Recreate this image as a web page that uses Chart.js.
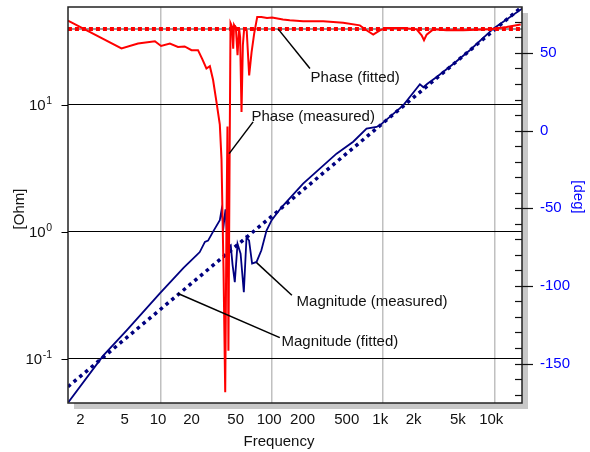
<!DOCTYPE html>
<html>
<head>
<meta charset="utf-8">
<script src="https://cdn.jsdelivr.net/npm/chart.js@4.4.0/dist/chart.umd.min.js"></script>
<style>
  body { margin: 0; background: #fff; }
</style>
</head>
<body>
<canvas id="impChart" width="590" height="452"></canvas>
<script>
// measured impedance magnitude, Hz / Ohm
const magFreq = [1.47, 3.0, 4.9, 9.7, 16, 20.8, 22.3, 24.8, 26.5, 29.4, 33.8, 35, 36.5, 38, 40, 42.4, 44, 46.1, 48.8, 52, 55.6, 58.8, 62, 66, 72.4, 80, 89, 99, 122, 190, 380, 537, 708, 871, 933, 1514, 2140, 2300, 2500, 3030, 4270, 6020, 9800, 17770];
const magOhm  = [0.0455, 0.105, 0.167, 0.325, 0.52, 0.65, 0.69, 0.83, 0.85, 1.0, 1.23, 1.47, 1.1, 1.5, 0.75, 0.78, 0.55, 0.40, 0.80, 0.67, 0.334, 0.905, 0.85, 0.56, 0.577, 0.713, 1.02, 1.23, 1.56, 2.39, 4.11, 5.1, 6.47, 6.67, 6.87, 9.86, 14.45, 13.7, 14.6, 16.5, 20.9, 26.8, 39.6, 57];

// measured phase, Hz / deg
const phaseFreq = [1.45, 4.4, 6.2, 8.8, 10, 12, 14.2, 16.3, 18.8, 21.5, 23.5, 25.6, 27.5, 29.4, 31.5, 33.8, 35.0, 36.5, 37.8, 38.8, 39.6, 40.4, 41.3, 42.2, 43.5, 44.6, 45.4, 46.2, 47.1, 48.8, 50.4, 51.5, 53.0, 54.5, 56.0, 59.0, 62.1, 65.3, 68.9, 73.4, 80, 90, 100, 125, 144, 190, 288, 436, 616, 708, 813, 933, 1072, 1514, 2000, 2218, 2330, 2460, 2820, 3720, 5250, 9120, 12900, 17300];
const phaseDeg  = [70.8, 52.9, 56.1, 57.5, 54.5, 56.0, 53.9, 54.2, 51.8, 51.8, 46, 40, 41.5, 32.6, 18.7, 3.8, -18.5, -90, -168.4, -60, 2.7, -141.7, -30, 69.2, 67, 52.8, 68, 67, 66.7, 48.5, 66, 60, 12, 55, 65.7, 64.6, 35.6, 50.6, 62.5, 73.2, 73.2, 72.5, 72.8, 71.5, 71, 70.5, 70.5, 69.5, 67.8, 64.6, 61.8, 64.6, 66, 66, 65.2, 61.4, 58.2, 61.8, 65.2, 64.6, 64.6, 65.2, 66.7, 68.4];

// fitted model: straight line in log-log, constant phase
const fitFreq = [1.45, 17770];
const fitOhm  = [0.06, 59];
const fitDeg  = [65.5, 65.5];

// axes
const xTicks      = [2, 5, 10, 20, 50, 100, 200, 500, 1000, 2000, 5000, 10000];
const xTickLabels = ['2', '5', '10', '20', '50', '100', '200', '500', '1k', '2k', '5k', '10k'];
const xGrid       = [10, 100, 1000, 10000];
const ohmTicks    = [0.1, 1, 10];
const ohmExp      = ['-1', '0', '1'];
const degTicks    = [-150, -100, -50, 0, 50];

// callouts: [Hz, deg] for line start, line end, text position
const notes = [
  { text: 'Phase (fitted)',       from: [113, 65.5],    to: [219, 40.0],    at: [222, 33.9] },
  { text: 'Phase (measured)',     from: [41.0, -14.8],  to: [67.4, 5.6],    at: [65.2, 8.8] },
  { text: 'Magnitude (measured)', from: [72.4, -85.0],  to: [150.5, -106.0], at: [165.9, -110.3] },
  { text: 'Magnitude (fitted)',   from: [14.2, -104.9], to: [117.2, -133.3], at: [121.5, -136.1] },
];

const FONT = '"Liberation Sans", Arial, sans-serif';
const pts = (xs, ys) => xs.map((x, i) => ({ x: x, y: ys[i] }));

const frame = {
  id: 'frame',
  beforeDraw(chart) {
    const { ctx, chartArea: a } = chart;
    ctx.save();
    ctx.fillStyle = '#c8c8c8';
    ctx.fillRect(a.left + 6, a.top + 6, a.right - a.left, a.bottom - a.top);
    ctx.fillStyle = '#fff';
    ctx.fillRect(a.left, a.top, a.right - a.left, a.bottom - a.top);
    ctx.restore();
  },
  afterDraw(chart) {
    const { ctx, chartArea: a, scales } = chart;
    const x = scales.x, yL = scales.yL, yR = scales.yR;
    ctx.save();

    // plot box
    ctx.strokeStyle = '#222';
    ctx.lineWidth = 1.5;
    ctx.strokeRect(a.left, a.top, a.right - a.left, a.bottom - a.top);

    // x labels
    ctx.fillStyle = '#111';
    ctx.font = '15px ' + FONT;
    ctx.textAlign = 'center';
    ctx.textBaseline = 'middle';
    xTicks.forEach((v, i) => {
      ctx.fillText(xTickLabels[i], x.getPixelForValue(v) - 3, a.bottom + 17);
    });
    ctx.fillText('Frequency', 279, a.bottom + 39);

    // left axis: decade ticks with superscript labels
    ctx.lineWidth = 1;
    ctx.strokeStyle = '#000';
    ohmTicks.forEach((v, i) => {
      const y = Math.round(yL.getPixelForValue(v)) + 0.5;
      ctx.beginPath();
      ctx.moveTo(a.left - 6.5, y);
      ctx.lineTo(a.left, y);
      ctx.stroke();
      ctx.textAlign = 'right';
      ctx.font = '10.5px ' + FONT;
      const sw = ctx.measureText(ohmExp[i]).width;
      ctx.fillText(ohmExp[i], a.left - 16, y - 4);
      ctx.font = '15px ' + FONT;
      ctx.fillText('10', a.left - 16 - sw - 0.5, y);
    });
    ctx.save();
    ctx.translate(20, 209);
    ctx.rotate(-Math.PI / 2);
    ctx.textAlign = 'center';
    ctx.fillText('[Ohm]', 0, 0);
    ctx.restore();

    // right axis: minor ticks every 10 deg, major every 50
    ctx.strokeStyle = '#111';
    ctx.lineWidth = 1.2;
    for (let v = -170; v <= 70; v += 10) {
      const y = Math.round(yR.getPixelForValue(v)) + 0.5;
      const major = v % 50 === 0;
      ctx.beginPath();
      ctx.moveTo(a.right - 7, y);
      ctx.lineTo(major ? a.right + 11 : a.right, y);
      ctx.stroke();
    }
    ctx.fillStyle = '#0000ff';
    ctx.textAlign = 'left';
    degTicks.forEach(v => ctx.fillText(String(v), a.right + 18, yR.getPixelForValue(v)));
    ctx.save();
    ctx.translate(578, 197);
    ctx.rotate(Math.PI / 2);
    ctx.textAlign = 'center';
    ctx.fillText('[deg]', 0, 0);
    ctx.restore();

    // callouts
    ctx.strokeStyle = '#000';
    ctx.fillStyle = '#111';
    ctx.lineWidth = 1.5;
    ctx.textAlign = 'left';
    notes.forEach(n => {
      ctx.beginPath();
      ctx.moveTo(x.getPixelForValue(n.from[0]), yR.getPixelForValue(n.from[1]));
      ctx.lineTo(x.getPixelForValue(n.to[0]), yR.getPixelForValue(n.to[1]));
      ctx.stroke();
      ctx.fillText(n.text, x.getPixelForValue(n.at[0]), yR.getPixelForValue(n.at[1]));
    });
    ctx.restore();
  }
};

new Chart(document.getElementById('impChart'), {
  type: 'line',
  data: {
    datasets: [
      { label: 'Phase (measured)', data: pts(phaseFreq, phaseDeg), yAxisID: 'yR',
        borderColor: '#ff0000', borderWidth: 2, order: 0 },
      { label: 'Phase (fitted)', data: pts(fitFreq, fitDeg), yAxisID: 'yR',
        borderColor: '#ff0000', borderWidth: 4, borderDash: [4, 3], order: 1 },
      { label: 'Phase (fitted) base', data: pts(fitFreq, fitDeg), yAxisID: 'yR',
        borderColor: '#777', borderWidth: 1.5, order: 2 },
      { label: 'Magnitude (measured)', data: pts(magFreq, magOhm), yAxisID: 'yL',
        borderColor: '#000080', borderWidth: 1.8, order: 3 },
      { label: 'Magnitude (fitted)', data: pts(fitFreq, fitOhm), yAxisID: 'yL',
        borderColor: '#000080', borderWidth: 3.5, borderDash: [3.5, 4], order: 4 },
    ]
  },
  options: {
    responsive: false,
    animation: false,
    devicePixelRatio: 1,
    layout: { padding: { left: 68, right: 68, top: 7, bottom: 49 } },
    elements: { point: { radius: 0 }, line: { tension: 0, borderCapStyle: 'butt' } },
    plugins: { legend: { display: false }, tooltip: { enabled: false } },
    scales: {
      x: {
        type: 'logarithmic', min: 1.452, max: 17770,
        afterBuildTicks: s => { s.ticks = xGrid.map(v => ({ value: v })); },
        ticks: { display: false },
        grid: { color: '#c0c0c0', lineWidth: 1.5, drawTicks: false },
        border: { display: false }
      },
      yL: {
        type: 'logarithmic', position: 'left', min: 0.0447, max: 58.7,
        afterBuildTicks: s => { s.ticks = ohmTicks.map(v => ({ value: v })); },
        ticks: { display: false },
        grid: { color: '#000', lineWidth: 1, drawTicks: false },
        border: { display: false }
      },
      yR: {
        type: 'linear', position: 'right', min: -175.4, max: 79.6,
        ticks: { display: false },
        grid: { drawOnChartArea: false, drawTicks: false },
        border: { display: false }
      }
    }
  },
  plugins: [frame]
});
</script>
</body>
</html>
